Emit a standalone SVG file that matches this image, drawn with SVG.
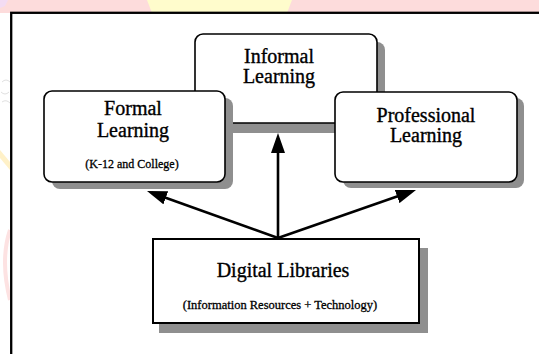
<svg xmlns="http://www.w3.org/2000/svg" width="539" height="354" viewBox="0 0 539 354">
  <style>
    .box { fill: #ffffff; stroke: #000000; stroke-width: 1.6; }
    .shadow { fill: #8f8f8f; stroke: none; }
    .title { font-family: "Liberation Serif", "Times New Roman", serif; font-size: 20px; fill: #000000; stroke: #000000; stroke-width: 0.35; text-anchor: middle; }
    .sub { font-family: "Liberation Serif", "Times New Roman", serif; font-size: 12px; fill: #000000; stroke: #000000; stroke-width: 0.3; text-anchor: middle; }
    .conn { fill: none; stroke: #000000; stroke-width: 2.6; }
  </style>
  <defs>
    <marker id="ah" markerUnits="userSpaceOnUse" markerWidth="20" markerHeight="14" refX="15" refY="7" orient="auto">
      <path d="M0,0 L20,7 L0,14 Z" fill="#000000"/>
    </marker>
  </defs>

  <!-- page background outside the frame -->
  <rect x="0" y="0" width="539" height="354" fill="#ffffff"/>
  <rect x="0" y="0" width="539" height="13" fill="#fddcdc"/>
  <polygon points="147,0 292,0 287,13 152,13" fill="#fffccc"/>
  <polygon points="0,0 8,0 5,6 0,8" fill="#f3dcf3"/>
  <path d="M0,150 L10,162 L10,170 L0,158 Z" fill="#fff1c8"/>
  <path d="M10,230 Q0,260 10,300" fill="none" stroke="#fde2e2" stroke-width="4"/>
  <path d="M2,82 q4,-4 8,0 M1,92 q4,4 8,0 M2,102 q4,-3 8,1" fill="none" stroke="#d8d8d8" stroke-width="0.8"/>

  <!-- frame -->
  <rect x="11.2" y="12.8" width="600" height="400" fill="#ffffff" stroke="#000000" stroke-width="2.3"/>

  <!-- Informal Learning (behind) -->
  <g id="informal">
    <rect class="shadow" x="202" y="42" width="183" height="91" rx="8"/>
    <rect class="box" x="195" y="34" width="182" height="89" rx="8"/>
    <text class="title" x="279" y="63">Informal</text>
    <text class="title" x="279" y="83">Learning</text>
  </g>

  <!-- Formal Learning -->
  <g id="formal">
    <rect class="shadow" x="52" y="98" width="181" height="91" rx="8"/>
    <rect class="box" x="44" y="91" width="181" height="91" rx="8"/>
    <text class="title" x="133" y="115">Formal</text>
    <text class="title" x="133" y="137">Learning</text>
    <text class="sub" x="132" y="168">(K-12 and College)</text>
  </g>

  <!-- Professional Learning -->
  <g id="professional">
    <rect class="shadow" x="343" y="98" width="181" height="90" rx="8"/>
    <rect class="box" x="335" y="92" width="182" height="90" rx="8"/>
    <text class="title" x="426" y="122">Professional</text>
    <text class="title" x="426" y="142">Learning</text>
  </g>

  <!-- Digital Libraries -->
  <g id="digital">
    <rect class="shadow" x="159" y="248" width="269" height="85"/>
    <rect x="153" y="239" width="266" height="84" fill="#ffffff" stroke="#000000" stroke-width="2"/>
    <text class="title" x="283" y="277">Digital Libraries</text>
    <text class="sub" x="280" y="309" style="font-size:12.5px">(Information Resources + Technology)</text>
  </g>

  <!-- connectors -->
  <g id="connectors">
    <line class="conn" x1="278" y1="238" x2="278" y2="138" marker-end="url(#ah)"/>
    <line class="conn" x1="278" y1="238" x2="151.7" y2="192.7" marker-end="url(#ah)"/>
    <line class="conn" x1="278" y1="238" x2="411.3" y2="191.6" marker-end="url(#ah)"/>
  </g>
</svg>
